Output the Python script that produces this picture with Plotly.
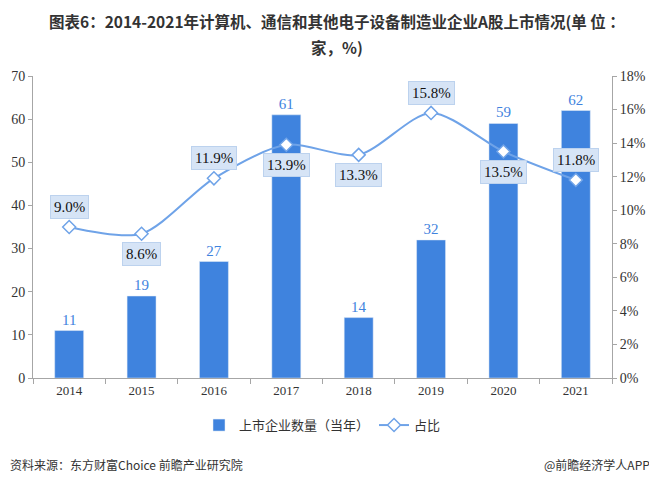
import plotly.graph_objects as go

years = [2014, 2015, 2016, 2017, 2018, 2019, 2020, 2021]
counts = [11, 19, 27, 61, 14, 32, 59, 62]
share = [9.0, 8.6, 11.9, 13.9, 13.3, 15.8, 13.5, 11.8]
share_pos = ["above", "below", "above", "below", "below", "above", "below", "above"]
title_lines = ["图表6：2014-2021年计算机、通信和其他电子设备制造业企业A股上市情况(单 位 ：", "家，%)"]

bar_color = "#3f83de"
line_color = "#6fa3e8"
serif = "Liberation Serif, Times New Roman, serif"
cjk = "Noto Sans CJK SC, sans-serif"

fig = go.Figure()
fig.add_trace(go.Bar(
    x=years, y=counts, name="上市企业数量（当年）", marker_color=bar_color,
    width=0.4, text=[str(c) for c in counts], textposition="outside",
    textfont=dict(family=serif, size=15, color="#3f83de"), cliponaxis=False,
))
fig.add_trace(go.Scatter(
    x=years, y=share, name="占比", yaxis="y2", mode="lines+markers",
    line=dict(color=line_color, width=2, shape="spline", smoothing=0.8),
    marker=dict(symbol="diamond", size=10, color="white", line=dict(color=line_color, width=1.5)),
))

for yr, s, p in zip(years, share, share_pos):
    fig.add_annotation(
        x=yr, y=s, xref="x", yref="y2", text=f"{s:.1f}%", showarrow=False,
        yshift=20 if p == "above" else -20,
        font=dict(family=serif, size=15, color="#111111"),
        bgcolor="#d6e4f6", bordercolor="#bcd2ee", borderwidth=1, borderpad=3,
    )

fig.add_annotation(
    text=f"<b>{title_lines[0]}</b>", x=0.525, y=1.138, xref="paper", yref="paper",
    xanchor="center", yanchor="bottom", showarrow=False,
    font=dict(family=cjk, size=15.5, color="#333333"),
)
fig.add_annotation(
    text=f"<b>{title_lines[1]}</b>", x=0.525, y=1.138, xref="paper", yref="paper",
    xanchor="center", yanchor="top", showarrow=False,
    font=dict(family=cjk, size=15.5, color="#333333"),
)
fig.add_annotation(
    text="资料来源：东方财富Choice 前瞻产业研究院", x=-0.043, y=-0.288, xref="paper", yref="paper",
    showarrow=False, font=dict(family=cjk, size=12, color="#333333"), xanchor="left", yanchor="middle",
)
fig.add_annotation(
    text="@前瞻经济学人APP", x=1.069, y=-0.288, xref="paper", yref="paper",
    showarrow=False, font=dict(family=cjk, size=12, color="#333333"), xanchor="right", yanchor="middle",
)

axis_line = "#a6a6a6"
boundaries = [years[0] - 0.5] + [yr + 0.5 for yr in years]
fig.update_layout(
    width=649, height=477,
    margin=dict(l=25, r=45, t=68, b=107, autoexpand=False),
    plot_bgcolor="white", paper_bgcolor="white",
    showlegend=True,
    legend=dict(orientation="h", x=0.5, xanchor="center", y=-0.156, yanchor="middle",
                font=dict(family=cjk, size=13, color="#333333")),
    xaxis=dict(range=[years[0] - 0.5, years[-1] + 0.5], tickvals=years, ticks="",
               showline=True, linecolor=axis_line, showgrid=False, zeroline=False,
               minor=dict(tickvals=boundaries, ticks="outside", ticklen=5, tickcolor=axis_line, showgrid=False),
               tickfont=dict(family=serif, size=13, color="#333333")),
    yaxis=dict(range=[0, 70], dtick=10, showgrid=False, showline=True, linecolor=axis_line,
               ticks="outside", tickcolor=axis_line, ticklen=4, zeroline=False,
               tickfont=dict(family=serif, size=14, color="#333333")),
    yaxis2=dict(range=[0, 18], dtick=2, overlaying="y", side="right", showgrid=False,
                showline=True, linecolor=axis_line, ticks="outside", tickcolor=axis_line,
                ticklen=4, ticksuffix="%", zeroline=False,
                tickfont=dict(family=serif, size=14, color="#333333")),
)

fig.write_html("out.html")
